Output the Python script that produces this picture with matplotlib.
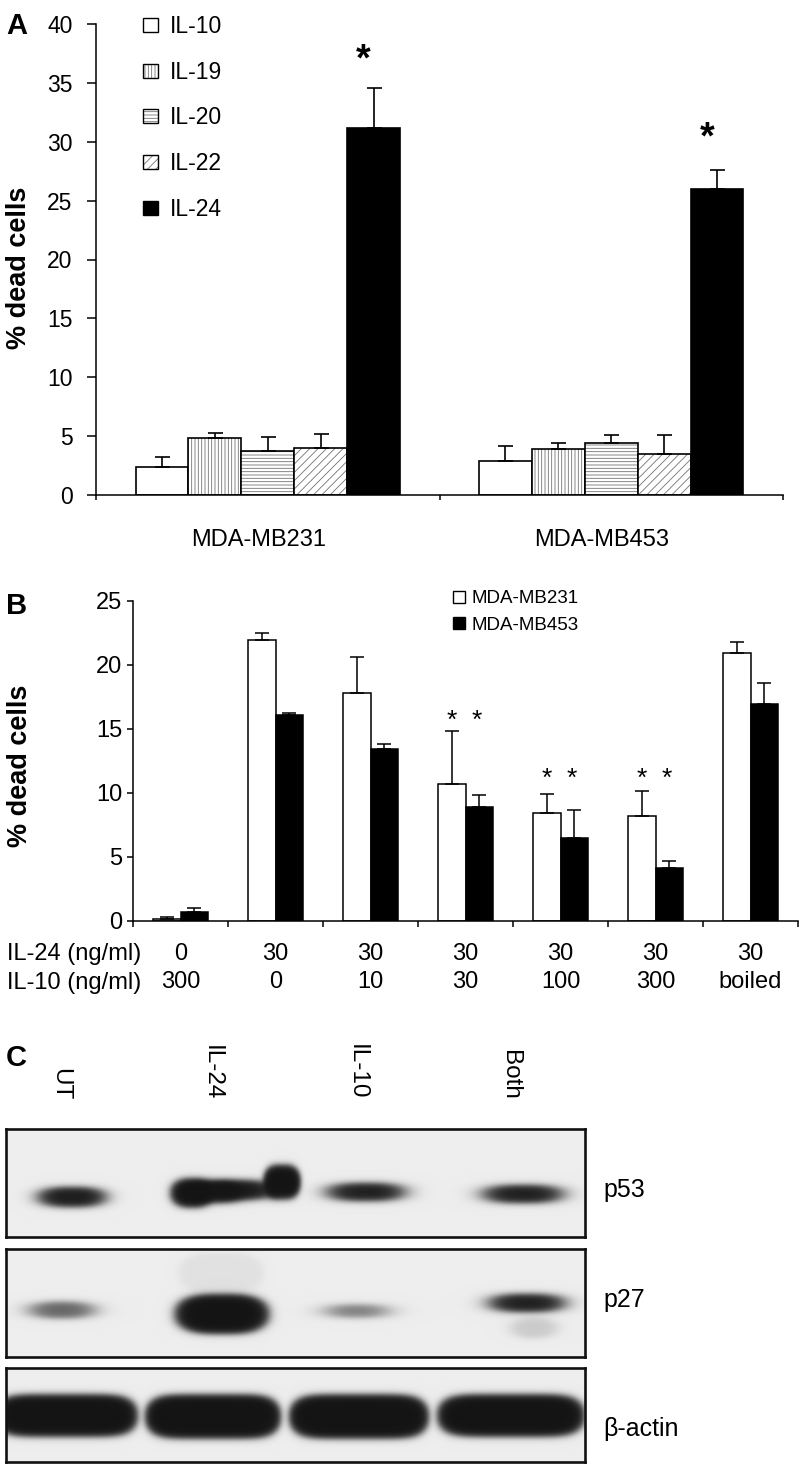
import numpy as np
import matplotlib
matplotlib.use('Agg')
import matplotlib.pyplot as plt
from matplotlib.patches import Rectangle
from matplotlib.transforms import blended_transform_factory

plt.rcParams['font.family'] = ['Liberation Sans', 'DejaVu Sans']
plt.rcParams['hatch.linewidth'] = 0.6

# ---------------- data ----------------
# Panel A
a_cells = ['MDA-MB231', 'MDA-MB453']
a_labels = ['IL-10', 'IL-19', 'IL-20', 'IL-22', 'IL-24']
a_il10 = [2.4, 2.9]
a_il10_err = [0.85, 1.3]
a_il19 = [4.8, 3.9]
a_il19_err = [0.5, 0.5]
a_il20 = [3.7, 4.4]
a_il20_err = [1.25, 0.7]
a_il22 = [4.0, 3.5]
a_il22_err = [1.15, 1.6]
a_il24 = [31.2, 26.0]
a_il24_err = [3.4, 1.6]
a_star_y = [36.9, 30.3]
a_yticks = [0, 5, 10, 15, 20, 25, 30, 35, 40]

# Panel B
b_il24 = ['0', '30', '30', '30', '30', '30', '30']
b_il10 = ['300', '0', '10', '30', '100', '300', 'boiled']
b_series = ['MDA-MB231', 'MDA-MB453']
b_231 = [0.15, 21.9, 17.8, 10.7, 8.4, 8.2, 20.9]
b_231_err = [0.15, 0.6, 2.8, 4.15, 1.5, 1.9, 0.85]
b_453 = [0.65, 16.05, 13.4, 8.85, 6.45, 4.15, 16.9]
b_453_err = [0.35, 0.2, 0.4, 0.95, 2.2, 0.55, 1.7]
b_sig_groups = [3, 4, 5]
b_star_y = [15.6, 11.05, 11.05]
b_yticks = [0, 5, 10, 15, 20, 25]

# Panel C (western blot): bands (cx, cy, half-w, half-h, darkness, x-exponent) in panel pixels
c_lanes = ['UT', 'IL-24', 'IL-10', 'Both']
c_rows = ['p53', 'p27', 'β-actin']
c_p53_bands = [(66, 68, 36, 11, 0.96, 2.5),
               (186, 64, 23, 16, 1.0, 2.5), (230, 61, 42, 11, 0.97, 3.0),
               (276, 53, 20, 19, 1.0, 3.0), (210, 63, 30, 12, 0.9, 2.5),
               (360, 63, 41, 10, 0.95, 2.5),
               (517, 65, 42, 10, 0.95, 2.5)]
c_p27_bands = [(56, 61, 34, 9, 0.62, 2.2),
               (216, 65, 50, 22, 1.0, 3.0), (215, 24, 45, 22, 0.06, 3.0),
               (351, 62, 32, 7, 0.5, 2.2),
               (521, 54, 40, 10, 0.95, 2.5), (528, 79, 25, 11, 0.16, 2.0)]
c_actin_bands = [(60, 48, 74, 23, 1.0, 6.0), (207, 49, 70, 24, 1.0, 6.0),
                 (353, 49, 72, 24, 1.0, 6.0), (505, 48, 76, 23, 1.0, 6.0)]

# ---------------- figure ----------------
W, H = 799, 1464
fig = plt.figure(figsize=(W / 100, H / 100), dpi=100)


def fx(x):
    return x / W


def fy(y):
    return 1 - y / H


def axes_px(left, top, right, bottom):
    return fig.add_axes([fx(left), fy(bottom), (right - left) / W, (bottom - top) / H])


def ctext(x, yc, s, size, **kw):
    # place text so that cap-height centre sits at pixel yc
    base = yc + 0.36 * size * 100 / 72
    fig.text(fx(x), fy(base), s, fontsize=size, va='baseline', **kw)


# ---------------- Panel A ----------------
axA = axes_px(96, 24, 783, 495)
xa = np.arange(len(a_cells))
bwA = 0.154
a_vals = [a_il10, a_il19, a_il20, a_il22, a_il24]
a_errs = [a_il10_err, a_il19_err, a_il20_err, a_il22_err, a_il24_err]
a_face = ['white', 'white', 'white', 'white', 'black']
a_hatch = ['', '|||||', '-----', '////', '']
for i in range(len(a_labels)):
    pos = xa + (i - 2) * bwA
    axA.bar(pos, a_vals[i], bwA, color=a_face[i], hatch=a_hatch[i], edgecolor='0.45', linewidth=0)
    axA.bar(pos, a_vals[i], bwA, fill=False, edgecolor='black', linewidth=1.2)
    axA.errorbar(pos, a_vals[i], yerr=[np.zeros(len(pos)), a_errs[i]], fmt='none',
                 ecolor='black', elinewidth=1.2, capsize=5.4, capthick=1.2)
for j in range(len(a_cells)):
    axA.text(xa[j] + 2 * bwA - 0.03, a_star_y[j], '*', fontsize=27, ha='center', va='center',
             fontweight='bold')
axA.set_xlim(-0.5, 1.5)
axA.set_ylim(0, 40)
axA.set_yticks(a_yticks)
axA.set_xticks([-0.5, 0.5, 1.5])
axA.set_xticklabels([])
axA.spines['top'].set_visible(False)
axA.spines['right'].set_visible(False)
for s in ['left', 'bottom']:
    axA.spines[s].set_linewidth(1.1)
axA.tick_params(axis='y', length=6.5, width=1.1, pad=10.5, labelsize=16.5)
axA.tick_params(axis='x', length=3.8, width=1.1)
tA = blended_transform_factory(axA.transData, fig.transFigure)
for j, name in enumerate(a_cells):
    axA.text(xa[j] - 0.027, fy(538 + 0.36 * 17 * 100 / 72), name, fontsize=17,
             ha='center', va='baseline', transform=tA)

# legend A
leg_rows = [25, 70.7, 116, 162, 208]
for i, lab in enumerate(a_labels):
    y = leg_rows[i]
    r1 = Rectangle((fx(143), fy(y + 7)), 15 / W, 14 / H, transform=fig.transFigure,
                   facecolor=a_face[i], hatch=a_hatch[i], edgecolor='0.45', linewidth=0)
    r2 = Rectangle((fx(143), fy(y + 7)), 15 / W, 14 / H, transform=fig.transFigure,
                   fill=False, edgecolor='black', linewidth=1.0)
    fig.add_artist(r1)
    fig.add_artist(r2)
    ctext(170, y, lab, 16.5)

fig.text(fx(19), fy(268), '% dead cells', rotation=90, fontsize=19.5, fontweight='bold',
         ha='center', va='center')
ctext(6, 23, 'A', 21, fontweight='bold')

# ---------------- Panel B ----------------
axB = axes_px(133, 600.7, 798, 920.7)
xb = np.arange(len(b_il10))
bwB = 0.29
axB.bar(xb - bwB / 2, b_231, bwB, color='white', edgecolor='black', linewidth=1.1)
axB.bar(xb + bwB / 2, b_453, bwB, color='black', edgecolor='black', linewidth=1.1)
axB.errorbar(xb - bwB / 2, b_231, yerr=[np.zeros(len(xb)), b_231_err], fmt='none',
             ecolor='black', elinewidth=1.1, capsize=5.0, capthick=1.1)
axB.errorbar(xb + bwB / 2, b_453, yerr=[np.zeros(len(xb)), b_453_err], fmt='none',
             ecolor='black', elinewidth=1.1, capsize=5.0, capthick=1.1)
for g, ys in zip(b_sig_groups, b_star_y):
    for off in (-bwB / 2, bwB / 2 - 0.03):
        axB.text(xb[g] + off, ys, '*', fontsize=19, ha='center', va='center')
axB.set_xlim(-0.5, len(xb) - 0.5)
axB.set_ylim(0, 25)
axB.set_yticks(b_yticks)
axB.set_xticks(np.arange(-0.5, len(xb), 1.0))
axB.set_xticklabels([])
axB.spines['top'].set_visible(False)
axB.spines['right'].set_visible(False)
for s in ['left', 'bottom']:
    axB.spines[s].set_linewidth(1.1)
axB.tick_params(axis='y', length=4.3, width=1.1, pad=3.6, labelsize=17)
axB.tick_params(axis='x', length=4.3, width=1.1)
tB = blended_transform_factory(axB.transData, fig.transFigure)
for j in range(len(xb)):
    for lab, yc in ((b_il24[j], 951.7), (b_il10[j], 980)):
        axB.text(xb[j], fy(yc + 0.36 * 17 * 100 / 72), lab, fontsize=17, ha='center',
                 va='baseline', transform=tB)
ctext(6.7, 951.7, 'IL-24 (ng/ml)', 17)
ctext(6.7, 980, 'IL-10 (ng/ml)', 17)

for i, (lab, fc) in enumerate(zip(b_series, ['white', 'black'])):
    y = [596.7, 623.3][i]
    fig.add_artist(Rectangle((fx(453), fy(y + 6)), 12 / W, 12 / H, transform=fig.transFigure,
                             facecolor=fc, edgecolor='black', linewidth=1.0))
    ctext(471.7, y, lab, 13.5)

fig.text(fx(20), fy(766), '% dead cells', rotation=90, fontsize=19.5, fontweight='bold',
         ha='center', va='center')
ctext(6, 604, 'B', 21, fontweight='bold')

# ---------------- Panel C ----------------
ctext(6, 1055, 'C', 21, fontweight='bold')
lane_x = [60, 212, 357, 510]
for lx, lab in zip(lane_x, c_lanes):
    fig.text(fx(lx), fy(1100), lab, rotation=-90, fontsize=17.5, ha='center', va='bottom')


def blot_image(width, height, bands, bg=0.93, ink=0.08):
    yy, xx = np.mgrid[0:height, 0:width] + 0.5
    keep = np.ones((height, width))
    for (cx, cy, hw, hh, dark, pxp) in bands:
        r = ((np.abs(xx - cx) / hw) ** pxp + (np.abs(yy - cy) / hh) ** 2.2) ** (1 / 2.2)
        f = 1.0 / (1.0 + np.exp((r - 0.92) * min(hw, hh) / 1.8))
        keep *= 1 - dark * f
    return bg * keep + ink * (1 - keep)


panels = [(1129, 1237, c_p53_bands, 1188), (1249, 1357, c_p27_bands, 1298),
          (1368, 1462, c_actin_bands, 1427)]
for (top, bot, bands, ly), lab in zip(panels, c_rows):
    ax = axes_px(6, top, 585, bot)
    wpx, hpx = 585 - 6, int(bot - top)
    img = blot_image(wpx, hpx, bands)
    ax.imshow(img, cmap='gray', vmin=0, vmax=1, extent=(0, wpx, hpx, 0), aspect='auto',
              interpolation='bilinear')
    ax.set_xticks([])
    ax.set_yticks([])
    for s in ax.spines.values():
        s.set_linewidth(1.9)
        s.set_color('#111111')
    ctext(603, ly, lab, 18)

fig.savefig('out.png', dpi=100)
